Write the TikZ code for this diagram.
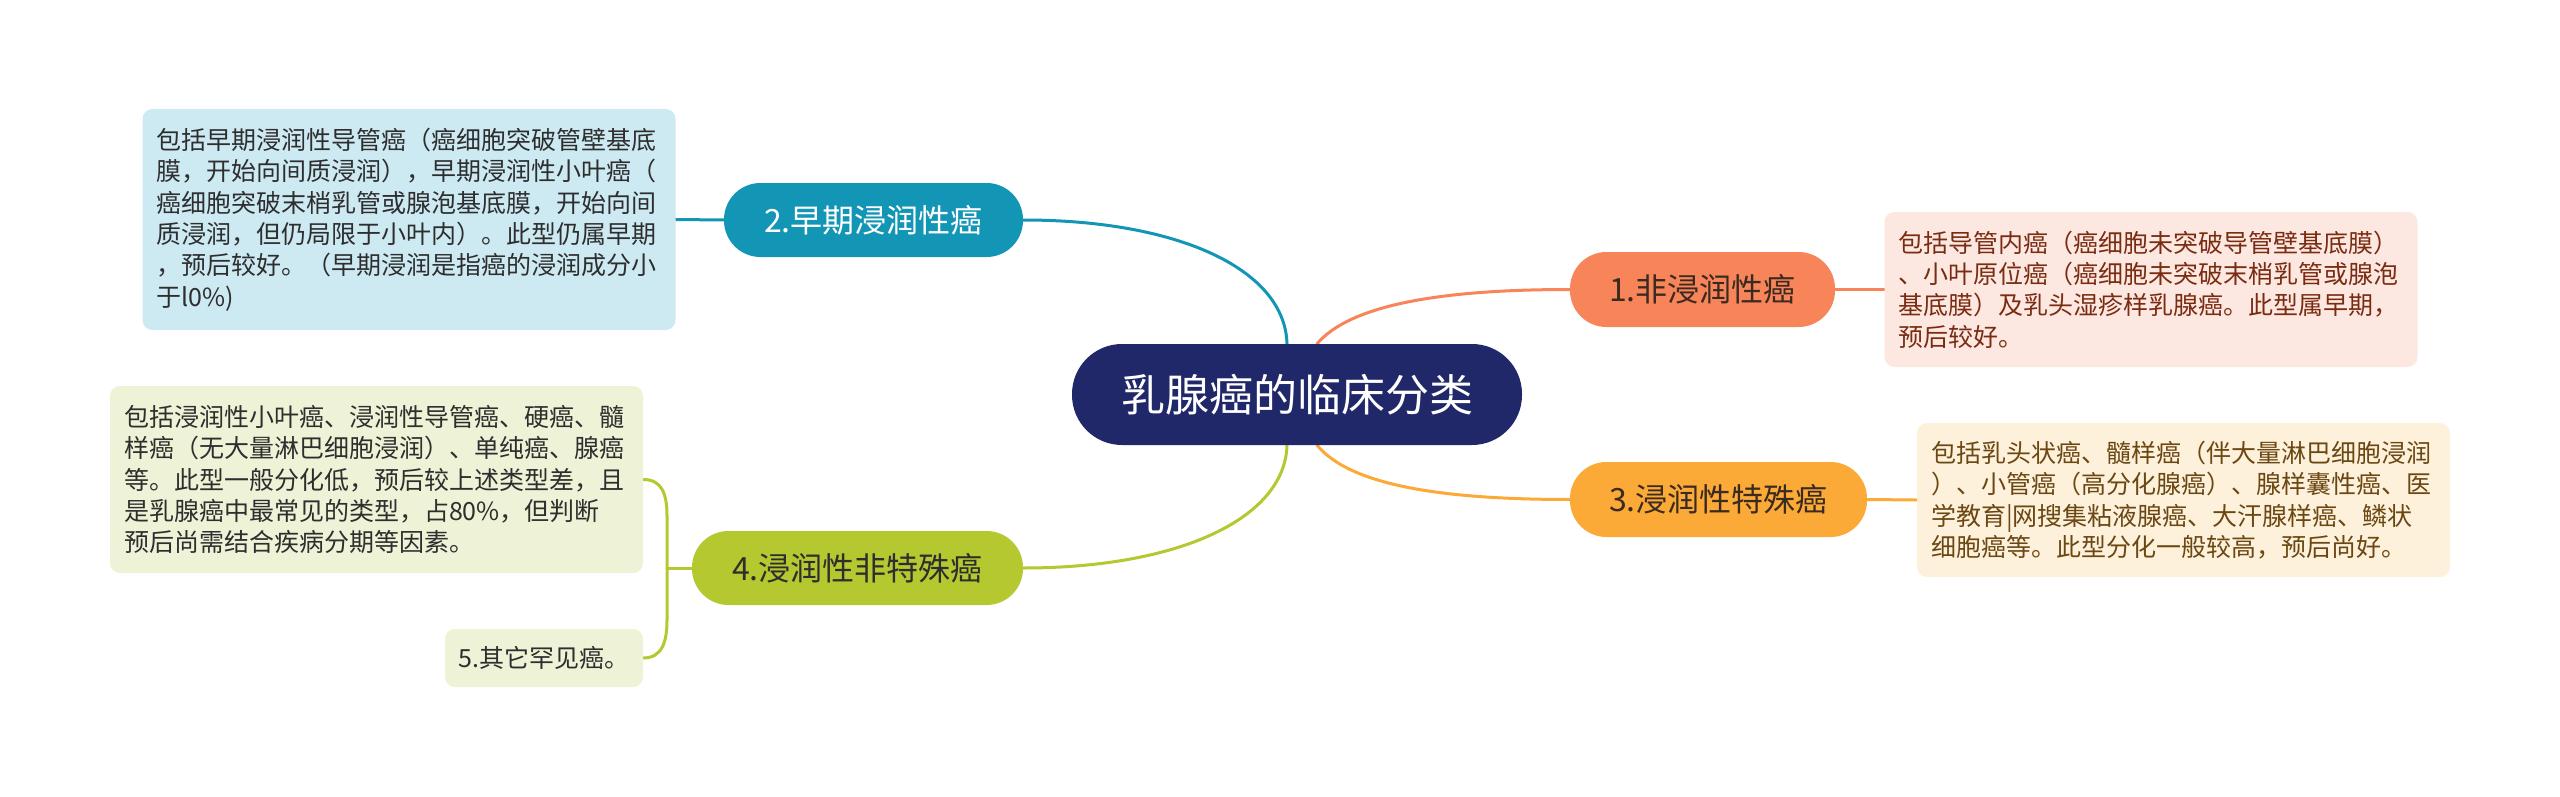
\documentclass[tikz,border=0pt]{standalone}
\usepackage{fontspec}
\setmainfont{Noto Sans CJK SC}
\usetikzlibrary{backgrounds}
\definecolor{navy}{HTML}{21286A}
\definecolor{teal2}{HTML}{1396B5}
\definecolor{lime2}{HTML}{B5C82F}
\definecolor{salmon2}{HTML}{F8845A}
\definecolor{amber2}{HTML}{FBAA37}
\definecolor{bluebg}{HTML}{CDEAF3}
\definecolor{pinkbg}{HTML}{FDE8E1}
\definecolor{creambg}{HTML}{FEF1DC}
\definecolor{greenbg}{HTML}{EEF2D6}
\definecolor{darktext}{HTML}{2E2E2E}
\definecolor{redtext}{HTML}{7A2C12}
\definecolor{browntext}{HTML}{6B4712}
\definecolor{nodetext}{HTML}{3A2A20}
\begin{document}
\begin{tikzpicture}[x=1pt,y=-1pt,
  rootbox/.style={rectangle, rounded corners=50pt, fill=navy, text=white, inner sep=0pt,
    minimum width=450pt, minimum height=101pt, font=\fontsize{44}{52}\selectfont},
  topicbox/.style={rectangle, rounded corners=36.5pt, inner sep=0pt,
    minimum height=74pt, font=\fontsize{32}{38}\selectfont},
  leafbox/.style={rectangle, rounded corners=10pt, inner xsep=14pt, inner ysep=0pt,
    text width=505pt, align=left, font=\fontsize{25}{31.4}\selectfont},
  link/.style={line width=3pt, line cap=round}
]
\useasboundingbox (0,0) rectangle (2560,797);

\node[rootbox] (root) at (1297,394.5) {乳腺癌的临床分类};

\node[topicbox, fill=teal2, text=white, minimum width=299pt] (n2) at (873.5,220) {2.早期浸润性癌};
\node[topicbox, fill=lime2, text=darktext, minimum width=331pt] (n4) at (857.5,568) {4.浸润性非特殊癌};
\node[topicbox, fill=salmon2, text=nodetext, minimum width=265pt, minimum height=75pt] (n1) at (1702.5,289.5) {1.非浸润性癌};
\node[topicbox, fill=amber2, text=nodetext, minimum width=297pt, minimum height=75pt] (n3) at (1718.5,499.5) {3.浸润性特殊癌};

\node[leafbox, fill=bluebg, text=darktext, minimum height=221pt] (l2) at (409,219.5)
 {包括早期浸润性导管癌（癌细胞突破管壁基底\\
  膜，开始向间质浸润），早期浸润性小叶癌（\\
  癌细胞突破末梢乳管或腺泡基底膜，开始向间\\
  质浸润，但仍局限于小叶内）。此型仍属早期\\
  ，预后较好。（早期浸润是指癌的浸润成分小\\
  于l0\%)};

\node[leafbox, fill=pinkbg, text=redtext, minimum height=155pt] (l1) at (2151,289.5)
 {包括导管内癌（癌细胞未突破导管壁基底膜）\\
  、小叶原位癌（癌细胞未突破末梢乳管或腺泡\\
  基底膜）及乳头湿疹样乳腺癌。此型属早期，\\
  预后较好。};

\node[leafbox, fill=creambg, text=browntext, minimum height=154pt] (l3) at (2183.5,500)
 {包括乳头状癌、髓样癌（伴大量淋巴细胞浸润\\
  ）、小管癌（高分化腺癌）、腺样囊性癌、医\\
  学教育|网搜集粘液腺癌、大汗腺样癌、鳞状\\
  细胞癌等。此型分化一般较高，预后尚好。};

\node[leafbox, fill=greenbg, text=darktext, minimum height=187pt] (l4) at (376.5,479.5)
 {包括浸润性小叶癌、浸润性导管癌、硬癌、髓\\
  样癌（无大量淋巴细胞浸润）、单纯癌、腺癌\\
  等。此型一般分化低，预后较上述类型差，且\\
  是乳腺癌中最常见的类型，占80\%，但判断\\
  预后尚需结合疾病分期等因素。};

\node[rectangle, rounded corners=10pt, fill=greenbg, text=darktext, inner sep=0pt,
  minimum width=198pt, minimum height=58pt, font=\fontsize{25}{31.4}\selectfont] (l5) at (544,658) {5.其它罕见癌。};

\coordinate (rTL) at ([xshift=-10pt]root.north);
\coordinate (rTR) at ([xshift=20pt]root.north);
\coordinate (rBL) at ([xshift=-10pt]root.south);
\coordinate (rBR) at ([xshift=20pt]root.south);
\coordinate (bj) at (667,568);
\coordinate (bt) at (667,516);
\coordinate (bb) at (667,620);

\begin{scope}[on background layer]
\fill[white] (0,0) rectangle (2560,797);
\draw[link, teal2] (rTL) .. controls (1285,270) and (1180,220) .. (n2.east);
\draw[link, lime2] (rBL) .. controls (1285,518) and (1180,568) .. (n4.east);
\draw[link, salmon2] (rTR) .. controls (1350,305) and (1440,289.5) .. (n1.west);
\draw[link, amber2] (rBR) .. controls (1350,485) and (1440,499.5) .. (n3.west);

\draw[link, teal2] (n2.west) -- (l2.east);
\draw[link, salmon2] (n1.east) -- (l1.west);
\draw[link, amber2] (n3.east) -- (l3.west);

\draw[link, lime2] (n4.west) -- (bj);
\draw[link, lime2] (bj) -- (bt) .. controls (667,494) and (662,479.5) .. (l4.east);
\draw[link, lime2] (bj) -- (bb) .. controls (667,642) and (662,658) .. (l5.east);
\end{scope}
\end{tikzpicture}
\end{document}
